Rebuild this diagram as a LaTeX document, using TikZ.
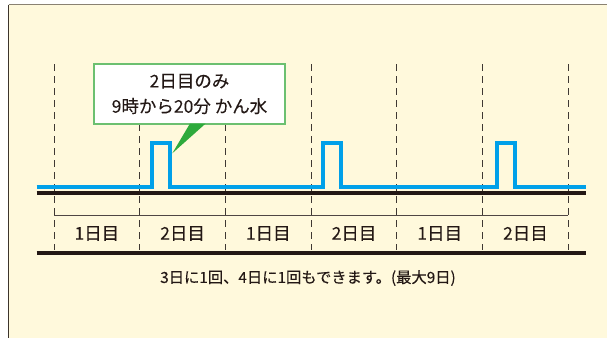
\documentclass[tikz,border=0pt]{standalone}
\usepackage{fontspec}
\setmainfont{Noto Sans CJK JP}[FakeBold=0.15]
\definecolor{bg}{HTML}{FFF9DC}
\definecolor{frameC}{HTML}{8A8272}
\definecolor{frameL}{HTML}{3C342C}
\definecolor{wave}{HTML}{00A0E9}
\definecolor{ink}{HTML}{231815}
\definecolor{dashC}{HTML}{3F3833}
\definecolor{boxG}{HTML}{6CC070}
\definecolor{tipG}{HTML}{2EAA3C}
\tikzset{
  dayline/.style={draw=dashC, line width=1pt, dash pattern=on 7pt off 5pt},
  daylabel/.style={font=\fontsize{17.5}{20}\selectfont, text=ink, inner sep=0pt},
  axis/.style={draw=ink, line width=4pt},
  wavestyle/.style={draw=wave, line width=4pt},
}
\begin{document}
\begin{tikzpicture}[x=1pt,y=-1pt]
\useasboundingbox (0,0) rectangle (607,338);
\fill[white] (0,0) rectangle (607,338);
\fill[bg] (8.7,4.5) rectangle (607,338);
\draw[frameC, line width=1.8pt] (8.7,4.5) -- (607,4.5);
\draw[frameL, line width=1.2pt] (8.7,4.5) -- (8.7,338);
% dashed day separators
\foreach \i in {0,...,6} {
  \coordinate (d\i top) at ({54+85.72*\i},64);
  \coordinate (d\i bot) at ({54+85.72*\i},250);
  \draw[dayline] (d\i top) -- (d\i bot);
}
% thin line
\draw[ink!80, line width=1.3pt] (54,215.7) -- (568.3,215.7);
% day labels
\foreach \i/\t in {0/1日目,1/2日目,2/1日目,3/2日目,4/1日目,5/2日目} {
  \node[daylabel] (lab\i) at ({54+85.72*\i+42.86},233.5) {\t};
}
% base lines
\draw[axis] (36.7,193.3) -- (586,193.3);
\draw[axis] (36.7,252.7) -- (586,252.7);
% blue wave
\draw[wavestyle, line join=miter]
  (36.7,186.7) -- (151.5,186.7) -- (151.5,143.3) -- (169.5,143.3) -- (169.5,186.7)
  -- (322.8,186.7) -- (322.8,143.3) -- (340.8,143.3) -- (340.8,186.7)
  -- (497,186.7) -- (497,143.3) -- (515,143.3) -- (515,186.7) -- (586,186.7);
% callout
\node[draw=boxG, fill=white, line width=1.3pt, minimum width=191pt, minimum height=60pt,
      inner sep=0pt, align=center, font=\fontsize{17.5}{25.3}\selectfont, text=ink]
  (callout) at (189.5,94) {2日目のみ\\9時から20分 かん水};
\coordinate (tipA) at (190,123.5);
\coordinate (tipB) at (205.7,123.5);
\coordinate (tip) at (172.3,153.3);
\fill[tipG] (tipA) -- (tip) -- (tipB) -- cycle;
% note
\node[font=\fontsize{15.3}{18}\selectfont, text=ink, inner sep=0pt] (note) at (308,278)
  {3日に1回、4日に1回もできます。(最大9日)};
\end{tikzpicture}
\end{document}
